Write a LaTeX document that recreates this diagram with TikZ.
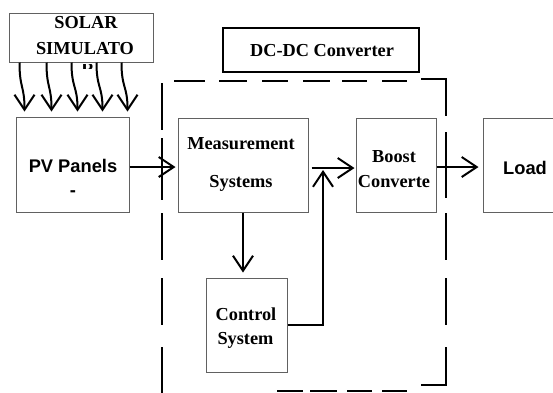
\documentclass[tikz,border=0pt]{standalone}
\usepackage{fontspec}
\setmainfont{Liberation Serif}
\setsansfont{Liberation Sans}
\usetikzlibrary{arrows.meta}
\definecolor{boxgray}{rgb}{0.38,0.38,0.38}
\begin{document}
\begin{tikzpicture}[x=1pt,y=-1pt,
  box/.style={draw=boxgray, line width=1pt, inner sep=0pt},
  arr/.style={line width=2pt, -{Straight Barb[length=15pt,width=20pt]}},
  dsh/.style={line width=2pt},
  ser/.style={font=\fontsize{18.3}{22}\selectfont\bfseries, anchor=base, inner sep=0pt},
  sans/.style={font=\fontsize{18.3}{22}\selectfont\sffamily\bfseries, anchor=base, inner sep=0pt}]
\useasboundingbox (0,0) rectangle (553,392);
\clip (0,0) rectangle (553,392);
\fill[white] (0,0) rectangle (553,392);

% boxes
\node[box, minimum width=144pt, minimum height=49pt] (solar) at (81,37.5) {};
\node[box, draw=black, line width=2pt, minimum width=196pt, minimum height=44pt] (dcdc) at (321,50) {};
\node[box, minimum width=113pt, minimum height=95pt] (pv) at (72.5,164.5) {};
\node[box, minimum width=130pt, minimum height=94pt] (meas) at (243,165) {};
\node[box, minimum width=80pt, minimum height=94pt] (boost) at (396,165) {};
\node[box, minimum width=82pt, minimum height=94pt] (load) at (524,165) {};
\node[box, minimum width=81pt, minimum height=94pt] (ctrl) at (246.5,325) {};

% texts
\node[ser] (t1) at (86,28) {SOLAR};
\node[ser] (t2) at (85,54) {SIMULATO};
\begin{scope}
  \clip (80,64) rectangle (96,68.5);
  \node[ser] (t3) at (88,75) {R};
\end{scope}
\node[ser] (t4) at (322,56) {DC-DC Converter};
\node[sans] (t5) at (73,172) {PV Panels};
\node[sans] (t6) at (73,196) {-};
\node[ser] (t7) at (241,149) {Measurement};
\node[ser] (t8) at (241,187) {Systems};
\node[ser] (t9) at (394,162) {Boost};
\node[ser] (t10) at (394,187) {Converte};
\node[sans] (t11) at (525,174) {Load};
\node[ser] (t12) at (246,320) {Control};
\node[ser] (t13) at (245.5,344) {System};

% dashed DC-DC boundary
\draw[dsh] (162,83) -- (162,130);
\draw[dsh] (162,138) -- (162,200);
\draw[dsh] (162,213) -- (162,260);
\draw[dsh] (162,278) -- (162,325);
\draw[dsh] (162,347) -- (162,395);
\draw[dsh] (174,81) -- (205,81);
\draw[dsh] (219,81) -- (247,81);
\draw[dsh] (262,81) -- (288,81);
\draw[dsh] (303,81) -- (330,81);
\draw[dsh] (342,81) -- (367,81);
\draw[dsh] (382,81) -- (407,81);
\draw[dsh] (421,79) -- (446,79) -- (446,116);
\draw[dsh] (446,132) -- (446,198);
\draw[dsh] (446,213) -- (446,260);
\draw[dsh] (446,278) -- (446,325);
\draw[dsh] (446,347) -- (446,385) -- (421,385);
\draw[dsh] (277,391) -- (303,391);
\draw[dsh] (310,391) -- (337,391);
\draw[dsh] (347,391) -- (372,391);
\draw[dsh] (382,391) -- (407,391);

% solar rays
\foreach \a/\b in {11/9, 38/36, 63/62, 88/87, 113/112}
  \draw[arr] ([xshift=\a pt]solar.south west) .. controls +(0,26) and +(0,-26) .. ([xshift=\b pt,yshift=5pt]pv.north west);

% connectors
\draw[arr] ([yshift=-2.5pt]pv.east) -- ([yshift=-2pt,xshift=-2pt]meas.west);
\draw[arr] ([xshift=3pt,yshift=-3pt]meas.east) -- ([xshift=-1pt,yshift=-3pt]boost.west);
\draw[arr] ([yshift=-2pt]boost.east) -- ([xshift=-4pt,yshift=-2pt]load.west);
\draw[arr, shorten >=5pt] (meas.south) -- (meas.south |- ctrl.north);
\coordinate (fb) at (323,170);
\draw[arr] (ctrl.east) -| (fb);
\end{tikzpicture}
\end{document}
